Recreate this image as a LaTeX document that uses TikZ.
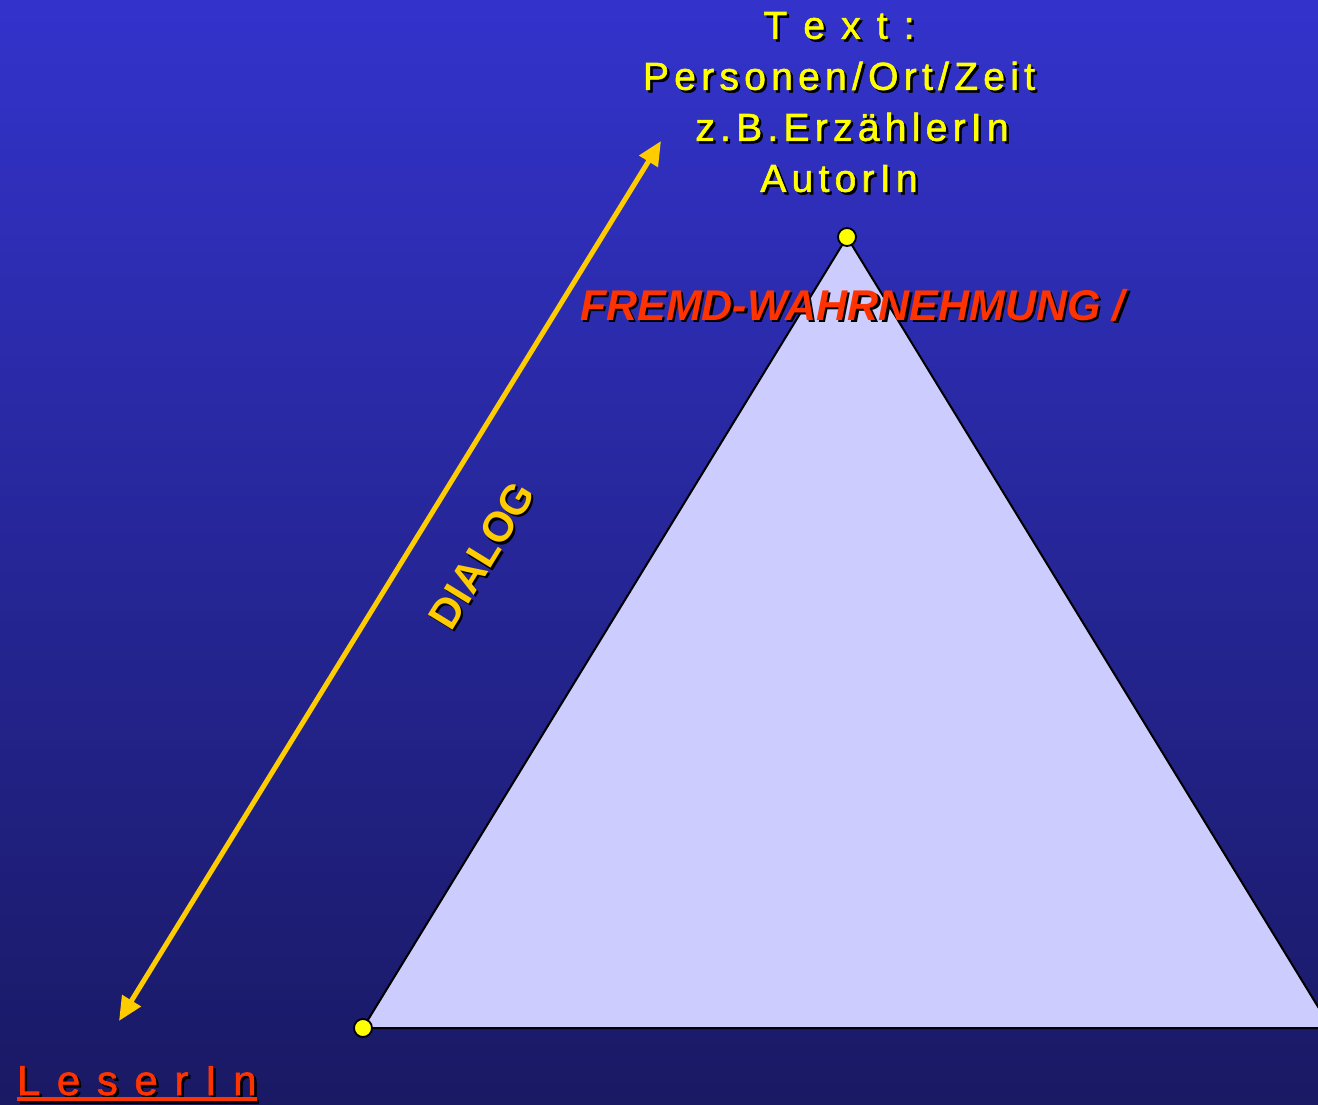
\documentclass[tikz,border=0pt]{standalone}
\usepackage{fontspec}
\setmainfont{Liberation Sans}
\newfontfamily\spacedfont[LetterSpace=13.5,FakeBold=1.5]{Liberation Sans}
\newfontfamily\widefont[LetterSpace=39.5,FakeBold=1.5]{Liberation Sans}
\newfontfamily\fremdfont{Liberation Sans}
\usetikzlibrary{arrows.meta}
\definecolor{bgtop}{RGB}{51,51,204}
\definecolor{bgbot}{RGB}{25,25,100}
\definecolor{yel}{RGB}{255,255,0}
\definecolor{gold}{RGB}{255,204,0}
\definecolor{redtxt}{RGB}{255,51,0}
\definecolor{trifill}{RGB}{204,204,255}
\newcommand{\shtxt}[3]{\makebox[0pt][l]{\hspace*{#1}\raisebox{-#2}{\color{black}#3}}#3}
\tikzset{
  plaintext/.style={inner sep=0pt, outer sep=0pt},
  vertexdot/.style={circle, fill=yel, draw=black, line width=1.8pt, minimum size=18pt, inner sep=0pt},
  dialogarrow/.style={draw=gold, line width=5pt, {Triangle[length=24pt,width=21pt]}-{Triangle[length=24pt,width=21pt]}},
  trianglestyle/.style={fill=trifill, draw=black, line width=2pt, line join=miter}
}
\begin{document}
\begin{tikzpicture}[x=1pt,y=-1pt]
\useasboundingbox (0,0) rectangle (1318,1105);
\clip (0,0) rectangle (1318,1105);
\shade[top color=bgtop, bottom color=bgbot] (0,0) rectangle (1318,1105);
% triangle
\coordinate (apex) at (847,237);
\coordinate (bl) at (363,1028);
\coordinate (br) at (1331,1028);
\path[trianglestyle] (apex) -- (bl) -- (br) -- cycle;
\node[vertexdot] (dotapex) at (apex) {};
\node[vertexdot] (dotbl) at (bl) {};
% dialog arrow
\coordinate (dtop) at (661,141);
\coordinate (dbot) at (119,1021);
\draw[dialogarrow] (dbot) -- (dtop);
% top text
\node[plaintext, text=yel, anchor=north, align=center, font=\spacedfont\fontsize{39}{51}\selectfont] (txt) at (839,12)
  {\shtxt{2.5pt}{2.5pt}{T e x t :}\\
   \shtxt{2.5pt}{2.5pt}{Personen/Ort/Zeit}\\
   \hspace*{26pt}\shtxt{2.5pt}{2.5pt}{z.B.ErzählerIn}\\
   \shtxt{2.5pt}{2.5pt}{AutorIn}};
% fremd
\node[plaintext, text=redtxt, anchor=base west, font=\fremdfont\fontsize{43}{50}\selectfont\bfseries\itshape] (fremd) at (580,320)
  {\shtxt{2.5pt}{2.5pt}{FREMD-WAHRNEHMUNG /}};
% dialog
\node[plaintext, text=gold, rotate=58.4, font=\fontsize{42}{50}\selectfont\bfseries] (dialog) at (483,556)
  {\shtxt{-0.8pt}{3.2pt}{DIALOG}};
% leserin
\node[plaintext, text=redtxt, anchor=base west, font=\widefont\fontsize{42}{50}\selectfont] (leser) at (17,1095)
  {\shtxt{2.5pt}{2.5pt}{LeserIn}};
\draw[black, line width=4pt] ([shift={(2.5,6.5)}]leser.base west) -- ([shift={(2.5,6.5)}]leser.base east);
\draw[redtxt, line width=4pt] ([shift={(0,4)}]leser.base west) -- ([shift={(0,4)}]leser.base east);
\end{tikzpicture}
\end{document}
